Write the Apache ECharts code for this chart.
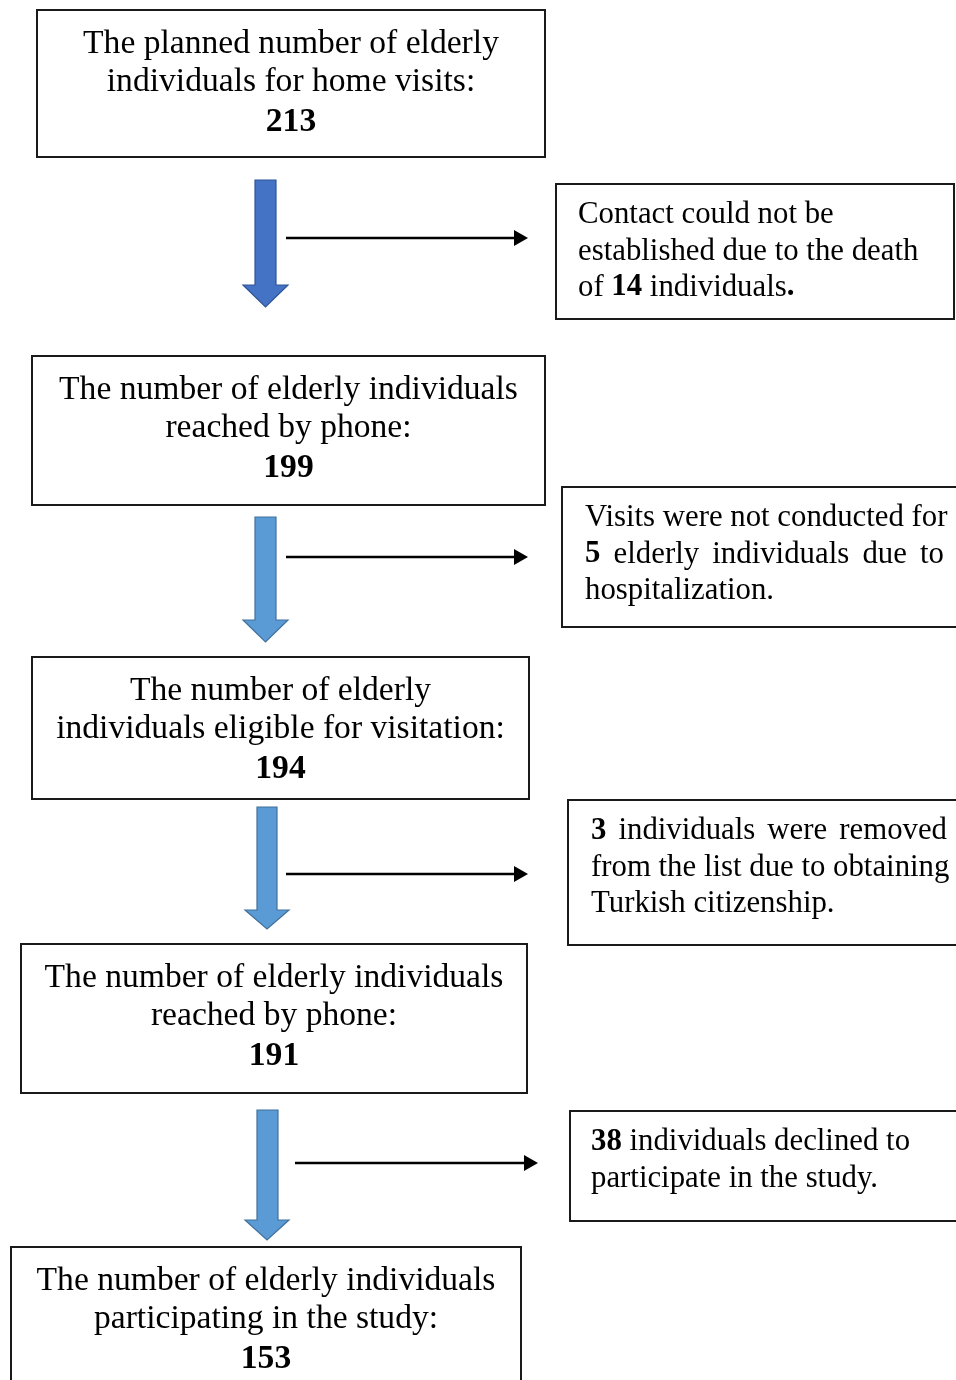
<!DOCTYPE html>
<html>
<head>
<meta charset="utf-8">
<script src="https://cdn.jsdelivr.net/npm/echarts@6/dist/echarts.min.js"></script>
<style>html,body{margin:0;padding:0;background:#fff}#c{width:956px;height:1380px}</style>
</head>
<body>
<div id="c"></div>
<script>
// ---------- DATA ----------
const mainTitles = [
  ['The planned number of elderly', 'individuals for home visits:'],
  ['The number of elderly individuals', 'reached by phone:'],
  ['The number of elderly', 'individuals eligible for visitation:'],
  ['The number of elderly individuals', 'reached by phone:'],
  ['The number of elderly individuals', 'participating in the study:']
];
const mainCounts = [213, 199, 194, 191, 153];
const excludedCounts = [14, 5, 3, 38];
// {b|...} marks bold text; {n} is replaced by the excluded count
const excludedLines = [
  ['Contact could not be', 'established due to the death', 'of {b|{n}} individuals{b|.}'],
  ['Visits were not conducted for', '{b|{n}} elderly individuals due to', 'hospitalization.'],
  ['{b|{n}} individuals were removed', 'from the list due to obtaining', 'Turkish citizenship.'],
  ['{b|{n}} individuals declined to', 'participate in the study.']
];
const justifiedLines = [[], [1], [0], []];

// ---------- LAYOUT ----------
const FONT = '"Liberation Serif", "Times New Roman", serif';
const mainFont = 33.6, sideFont = 30.8;
const mainBoxes = [
  {x: 37, y: 10, w: 508, h: 147},
  {x: 32, y: 356, w: 513, h: 149},
  {x: 32, y: 657, w: 497, h: 142},
  {x: 21, y: 944, w: 506, h: 149},
  {x: 11, y: 1247, w: 510, h: 145}
];
const mainLineOffsets = [34, 72.5, 112];
const sideBoxes = [
  {x: 556, y: 184, w: 398, h: 135, tx: 578, tr: 919},
  {x: 562, y: 487, w: 398, h: 140, tx: 585, tr: 944},
  {x: 568, y: 800, w: 392, h: 145, tx: 591, tr: 947},
  {x: 570, y: 1111, w: 390, h: 110, tx: 591, tr: 947}
];
const sideLineOffsets = [31, 67.5, 103.5];
const downArrows = [
  {l: 255, r: 276, hl: 243, hr: 288, top: 180, neck: 285, tip: 307, fill: '#4472C4', stroke: '#2F5597'},
  {l: 255, r: 276, hl: 243, hr: 288, top: 517, neck: 620, tip: 642, fill: '#5B9BD5', stroke: '#41719C'},
  {l: 257, r: 277, hl: 245, hr: 289, top: 807, neck: 910, tip: 929, fill: '#5B9BD5', stroke: '#41719C'},
  {l: 257, r: 278, hl: 245, hr: 289, top: 1110, neck: 1220, tip: 1240, fill: '#5B9BD5', stroke: '#41719C'}
];
const sideArrows = [
  {x1: 286, x2: 528, y: 238},
  {x1: 286, x2: 528, y: 557},
  {x1: 286, x2: 528, y: 874},
  {x1: 295, x2: 538, y: 1163}
];

// ---------- BUILD ----------
const measureCtx = document.createElement('canvas').getContext('2d');
function measure(t, bold, size) {
  measureCtx.font = (bold ? 'bold ' : '') + size + 'px ' + FONT;
  return measureCtx.measureText(t).width;
}
function parseSegments(line) {
  const parts = line.split(/(\{b\|[^}]*\})/).filter(s => s.length);
  return parts.map(p => {
    const m = p.match(/^\{b\|([^}]*)\}$/);
    return m ? {t: m[1], bold: true} : {t: p, bold: false};
  });
}
const rich = {b: {fontWeight: 'bold', fontFamily: FONT, fontSize: sideFont, fill: '#000'}};
const elements = [];

mainBoxes.forEach((b, i) => {
  elements.push({type: 'rect', shape: {x: b.x, y: b.y, width: b.w, height: b.h},
    style: {fill: '#fff', stroke: '#1a1a1a', lineWidth: 2}});
  const cx = b.x + b.w / 2;
  const lines = mainTitles[i];
  lines.forEach((t, k) => {
    elements.push({type: 'text', x: cx, y: b.y + mainLineOffsets[k],
      style: {text: t, font: mainFont + 'px ' + FONT, fill: '#000', align: 'center', verticalAlign: 'middle'}});
  });
  elements.push({type: 'text', x: cx, y: b.y + mainLineOffsets[lines.length],
    style: {text: String(mainCounts[i]), font: 'bold ' + mainFont + 'px ' + FONT, fill: '#000', align: 'center', verticalAlign: 'middle'}});
});

sideBoxes.forEach((b, i) => {
  elements.push({type: 'rect', shape: {x: b.x, y: b.y, width: b.w, height: b.h},
    style: {fill: '#fff', stroke: '#1a1a1a', lineWidth: 2}});
  excludedLines[i].forEach((raw, k) => {
    const line = raw.replace('{n}', String(excludedCounts[i]));
    const y = b.y + sideLineOffsets[k];
    if (justifiedLines[i].indexOf(k) >= 0) {
      const words = [];
      parseSegments(line).forEach(seg => {
        seg.t.split(' ').forEach(w => {
          if (!w.length) return;
          words.push({t: w, bold: seg.bold});
        });
      });
      const total = words.reduce((s, w) => s + measure(w.t, w.bold, sideFont), 0);
      const gap = (b.tr - b.tx - total) / (words.length - 1);
      let x = b.tx;
      words.forEach(w => {
        elements.push({type: 'text', x: x, y: y,
          style: {text: w.t, font: (w.bold ? 'bold ' : '') + sideFont + 'px ' + FONT, fill: '#000', align: 'left', verticalAlign: 'middle'}});
        x += measure(w.t, w.bold, sideFont) + gap;
      });
    } else {
      elements.push({type: 'text', x: b.tx, y: y,
        style: {text: line, font: sideFont + 'px ' + FONT, fontFamily: FONT, fontSize: sideFont, fill: '#000', align: 'left', verticalAlign: 'middle', rich: rich}});
    }
  });
});

downArrows.forEach(a => {
  const cx = (a.hl + a.hr) / 2;
  elements.push({type: 'polygon', shape: {points: [
    [a.l, a.top], [a.r, a.top], [a.r, a.neck], [a.hr, a.neck], [cx, a.tip], [a.hl, a.neck], [a.l, a.neck]
  ]}, style: {fill: a.fill, stroke: a.stroke, lineWidth: 1.2}});
});

sideArrows.forEach(a => {
  elements.push({type: 'line', shape: {x1: a.x1, y1: a.y, x2: a.x2 - 12, y2: a.y},
    style: {stroke: '#000', lineWidth: 2.5}});
  elements.push({type: 'polygon', shape: {points: [[a.x2 - 14, a.y - 8], [a.x2, a.y], [a.x2 - 14, a.y + 8]]},
    style: {fill: '#000'}});
});

const chart = echarts.init(document.getElementById('c'), null, {renderer: 'canvas'});
chart.setOption({backgroundColor: '#fff', animation: false, graphic: {elements: elements}});
</script>
</body>
</html>
